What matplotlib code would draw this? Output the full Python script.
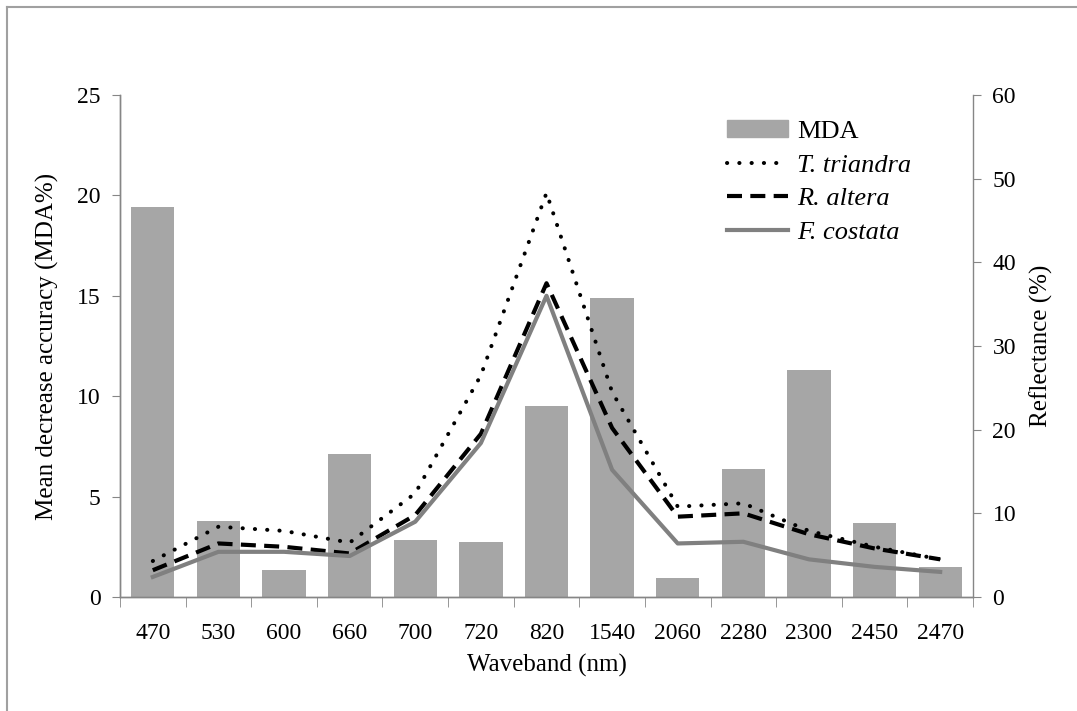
import numpy as np
import matplotlib
matplotlib.use("Agg")
import matplotlib.pyplot as plt
from matplotlib.patches import Patch
from matplotlib.lines import Line2D

plt.rcParams["font.family"] = ["Liberation Serif", "DejaVu Serif"]

wavebands = ["470", "530", "600", "660", "700", "720", "820",
             "1540", "2060", "2280", "2300", "2450", "2470"]
mda = [19.4, 3.8, 1.35, 7.1, 2.85, 2.75, 9.5, 14.9, 0.95, 6.35, 11.3, 3.7, 1.5]
t_triandra = [4.3, 8.4, 7.9, 6.5, 12.4, 26.5, 48.3, 24.5, 10.8, 11.2, 7.9, 6.0, 4.5]
r_altera = [3.2, 6.4, 6.0, 5.2, 9.8, 19.5, 37.5, 20.2, 9.6, 10.0, 7.5, 5.8, 4.5]
f_costata = [2.4, 5.4, 5.4, 4.9, 9.0, 18.4, 36.0, 15.2, 6.4, 6.6, 4.5, 3.6, 3.0]

spine_col = "#868686"
bar_col = "#A6A6A6"
dot_style = (0, (0.05, 3.0))
dash_style = (0, (3.6, 2.0))

fig = plt.figure(figsize=(10.77, 7.11), dpi=100)
ax = fig.add_axes([120/1077, 1 - 597/711, (973 - 120)/1077, (597 - 95)/711])
ax2 = ax.twinx()

x = np.arange(len(wavebands))
ax.bar(x, mda, width=0.66, color=bar_col, zorder=2)

ax2.plot(x, t_triandra, color="black", lw=2.9, linestyle=dot_style,
         dash_capstyle="round", zorder=3)
ax2.plot(x, r_altera, color="black", lw=3.0, linestyle=dash_style, zorder=3)
ax2.plot(x, f_costata, color="#808080", lw=3.0, zorder=3)

ax.set_xlim(-0.5, len(wavebands) - 0.5)
ax.set_ylim(0, 25)
ax2.set_ylim(0, 60)
ax.set_yticks(range(0, 26, 5))
ax2.set_yticks(range(0, 61, 10))
ax.set_xticks(x)
ax.set_xticklabels(wavebands)
ax.set_xticks(np.arange(-0.5, len(wavebands), 1), minor=True)

for a in (ax, ax2):
    a.spines["top"].set_visible(False)
    for s in ("left", "right", "bottom"):
        a.spines[s].set_color(spine_col)
        a.spines[s].set_linewidth(1.0)
ax.spines["right"].set_visible(False)

ax.tick_params(axis="x", which="major", length=0, pad=19, labelsize=17)
ax.tick_params(axis="x", which="minor", length=7, color=spine_col, direction="out")
ax.tick_params(axis="y", length=6, color=spine_col, labelsize=17, pad=8)
ax2.tick_params(axis="y", length=6, color=spine_col, labelsize=17, pad=8)

ax.set_xlabel("Waveband (nm)", fontsize=18, labelpad=7)
ax.set_ylabel("Mean decrease accuracy (MDA%)", fontsize=18, labelpad=13)
ax2.set_ylabel("Reflectance (%)", fontsize=18, labelpad=10)

handles = [
    Patch(color=bar_col, label="MDA"),
    Line2D([], [], color="black", lw=2.9, linestyle=dot_style,
           dash_capstyle="round", label="T. triandra"),
    Line2D([], [], color="black", lw=3.0, linestyle=dash_style, label="R. altera"),
    Line2D([], [], color="#808080", lw=3.0, label="F. costata"),
]
leg = ax2.legend(handles=handles, loc="upper left", bbox_to_anchor=(0.712, 0.95),
                 frameon=False, fontsize=19, handlelength=2.3, handleheight=0.6,
                 handletextpad=0.35, labelspacing=0.42, borderpad=0, borderaxespad=0)
for t in leg.get_texts()[1:]:
    t.set_style("italic")

# outer frame (left and top edges visible)
fig.add_artist(Line2D([7/1077, 7/1077], [0, 1 - 7/711], color="#A0A0A0", lw=1.5))
fig.add_artist(Line2D([7/1077, 1], [1 - 7/711, 1 - 7/711], color="#A0A0A0", lw=1.5))

fig.savefig("out.png", dpi=100)
